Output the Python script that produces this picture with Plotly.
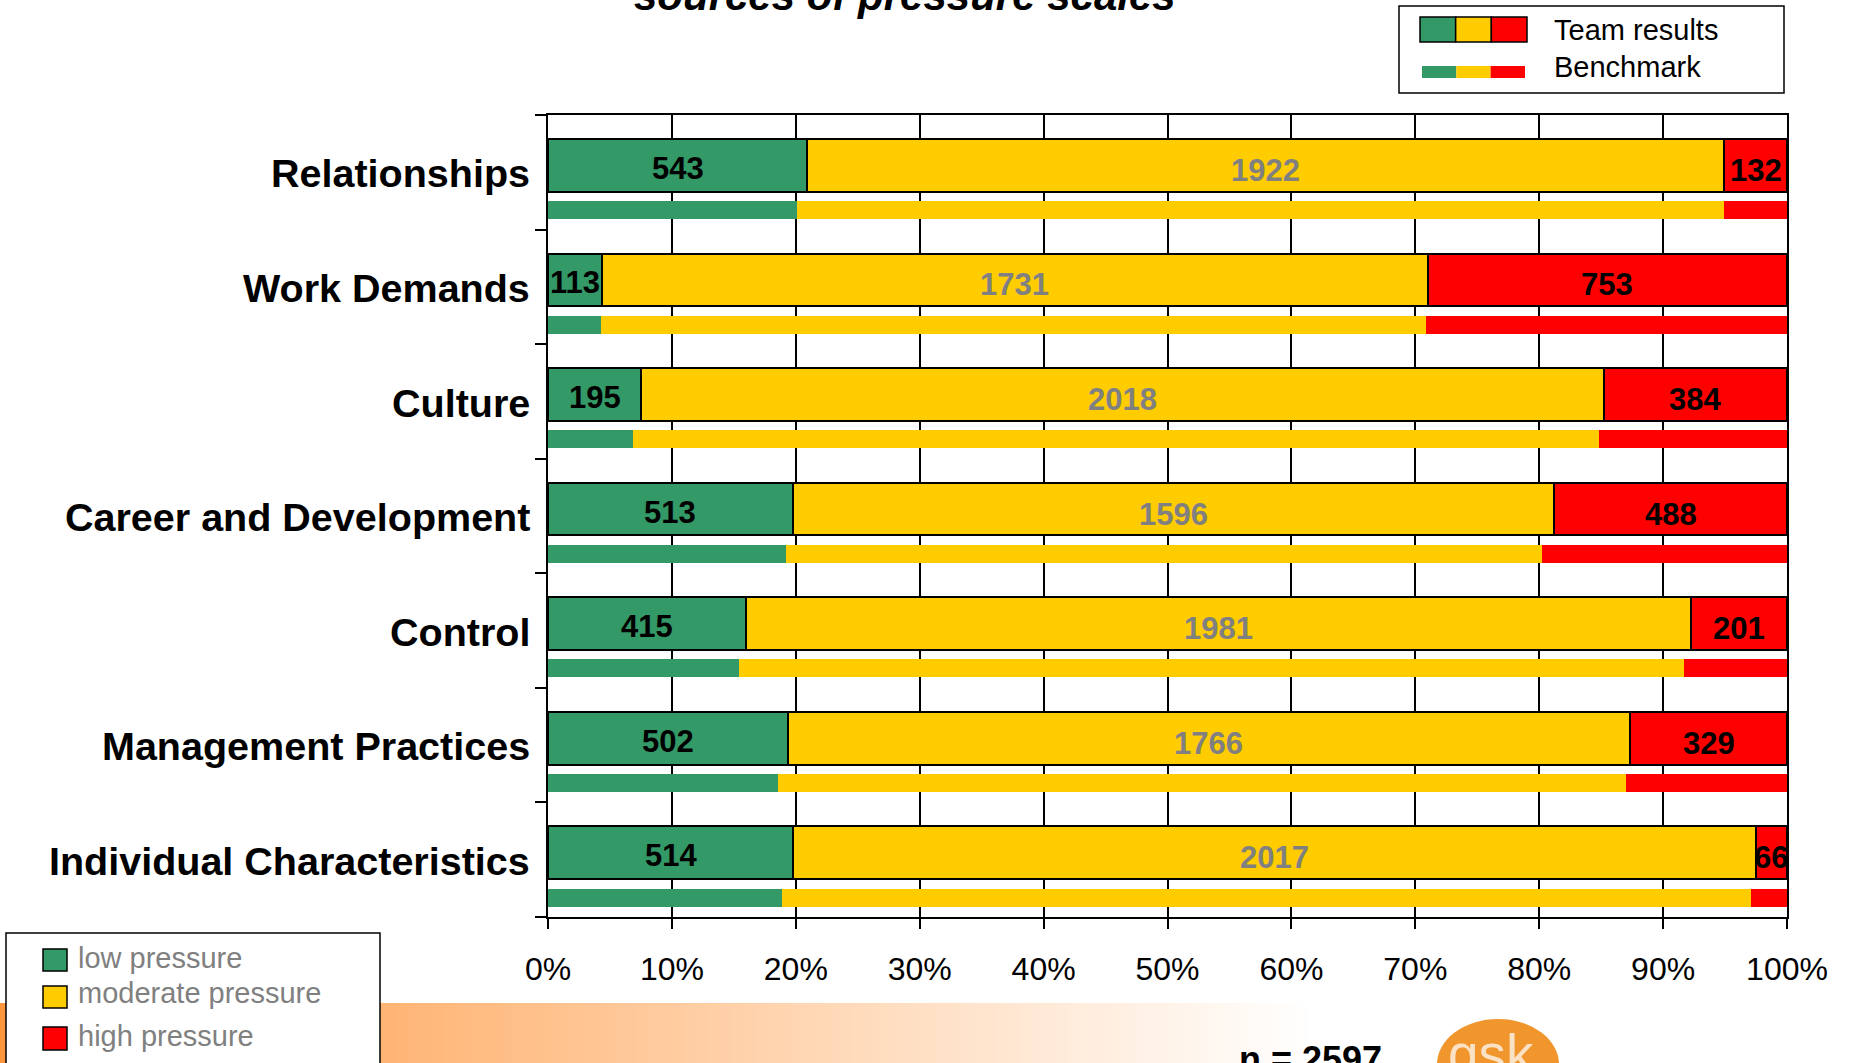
import plotly.graph_objects as go

# ---- data -------------------------------------------------------------
categories = [
    "Relationships",
    "Work Demands",
    "Culture",
    "Career and Development",
    "Control",
    "Management Practices",
    "Individual Characteristics",
]
# team results: number of respondents per pressure level
team_low = [543, 113, 195, 513, 415, 502, 514]
team_moderate = [1922, 1731, 2018, 1596, 1981, 1766, 2017]
team_high = [132, 753, 384, 488, 201, 329, 66]
# benchmark distribution (percent)
bench_low = [20.1, 4.3, 6.9, 19.2, 15.4, 18.6, 18.9]
bench_moderate = [74.8, 66.6, 77.9, 61.0, 76.3, 68.4, 78.2]
bench_high = [5.1, 29.1, 15.2, 19.8, 8.3, 13.0, 2.9]

x_ticks = [0, 10, 20, 30, 40, 50, 60, 70, 80, 90, 100]
x_tick_labels = [f"{v}%" for v in x_ticks]
level_names = ["low pressure", "moderate pressure", "high pressure"]
sample_size = 2597
title_text = "sources of pressure scales"

# ---- style ------------------------------------------------------------
COLORS = ["#339966", "#FFCC00", "#FF0000"]
VALUE_COLORS = ["#000000", "#808080", "#000000"]
VALUE_SHIFT = [-3, -5, -5]
FONT = "Liberation Sans, Arial, sans-serif"

W, H = 1849, 1063
L, R, T, B = 548, 1787, 115, 917


def xp(px):
    return (px - L) / (R - L)


def yp(py):
    return (B - py) / (B - T)


n = len(categories)
team_pos = [i + 0.44 for i in range(n)]
bench_pos = [i + 0.83 for i in range(n)]

fig = go.Figure()

team_series = [team_low, team_moderate, team_high]
bench_series = [bench_low, bench_moderate, bench_high]

for vals, color, name in zip(team_series, COLORS, level_names):
    fig.add_trace(go.Bar(
        x=vals, y=team_pos, orientation="h", width=0.46, name=name,
        marker=dict(color=color, line=dict(color="black", width=2)),
        showlegend=False,
    ))
for vals, color, name in zip(bench_series, COLORS, level_names):
    fig.add_trace(go.Bar(
        x=vals, y=bench_pos, orientation="h", width=0.157, name=name,
        marker=dict(color=color, line=dict(width=0)),
        showlegend=False,
    ))

annotations = []

# value labels in the centre of each team segment
for i in range(n):
    row = [s[i] for s in team_series]
    total = sum(row)
    start = 0
    for k, v in enumerate(row):
        centre = (start + v / 2) / total * 100
        start += v
        annotations.append(dict(
            x=centre, y=team_pos[i], xref="x", yref="y", text=f"<b>{v}</b>",
            showarrow=False, xanchor="center", yanchor="middle",
            yshift=VALUE_SHIFT[k],
            font=dict(family=FONT, size=31, color=VALUE_COLORS[k]),
        ))

# category names
for i, cat in enumerate(categories):
    annotations.append(dict(
        x=xp(532), y=team_pos[i], xref="paper", yref="y", text=f"<b>{cat}</b>",
        showarrow=False, xanchor="right", yanchor="middle", yshift=-8,
        font=dict(family=FONT, size=39.5, color="black"),
    ))

# title (partly above the page edge)
annotations.append(dict(
    x=xp(905), y=yp(-4.5), xref="paper", yref="paper",
    text=f"<b><i>{title_text}</i></b>", showarrow=False,
    xanchor="center", yanchor="middle",
    font=dict(family=FONT, size=42, color="black"),
))

shapes = []

# orange footer band fading to white
band_top, band_end, step = 1003, 1310, 6
c0 = (255, 150, 60)
for x0 in range(0, band_end, step):
    t = x0 / band_end
    r = round(c0[0] + (255 - c0[0]) * t)
    g = round(c0[1] + (255 - c0[1]) * t)
    b = round(c0[2] + (255 - c0[2]) * t)
    shapes.append(dict(
        type="rect", xref="paper", yref="paper", layer="below",
        x0=xp(x0), x1=xp(x0 + step + 1), y0=yp(band_top), y1=yp(H + 5),
        fillcolor=f"rgb({r},{g},{b})", line=dict(width=0),
    ))

# company logo
shapes.append(dict(
    type="circle", xref="paper", yref="paper", layer="above",
    x0=xp(1437), x1=xp(1559), y0=yp(1019), y1=yp(1110),
    fillcolor="#F0962D", line=dict(width=0),
))
annotations.append(dict(
    x=xp(1491), y=yp(1054), xref="paper", yref="paper", text="gsk",
    showarrow=False, xanchor="center", yanchor="middle",
    font=dict(family=FONT, size=55, color="#FBE2C4"),
))
annotations.append(dict(
    x=xp(1310), y=yp(1059), xref="paper", yref="paper",
    text=f"<b>n = {sample_size}</b>", showarrow=False,
    xanchor="center", yanchor="middle",
    font=dict(family=FONT, size=36, color="black"),
))

# key: team results vs benchmark (top right)
shapes.append(dict(
    type="rect", xref="paper", yref="paper", layer="above",
    x0=xp(1399), x1=xp(1784), y0=yp(6), y1=yp(93),
    fillcolor="white", line=dict(color="black", width=1.5),
))
sw_w = (1527 - 1420) / 3
bw = (1525 - 1422) / 3
for k, color in enumerate(COLORS):
    shapes.append(dict(
        type="rect", xref="paper", yref="paper", layer="above",
        x0=xp(1420 + k * sw_w), x1=xp(1420 + (k + 1) * sw_w),
        y0=yp(17), y1=yp(42),
        fillcolor=color, line=dict(color="black", width=1.5),
    ))
    shapes.append(dict(
        type="rect", xref="paper", yref="paper", layer="above",
        x0=xp(1422 + k * bw), x1=xp(1422 + (k + 1) * bw),
        y0=yp(66), y1=yp(78),
        fillcolor=color, line=dict(width=0),
    ))
for txt, cy in [("Team results", 30), ("Benchmark", 67)]:
    annotations.append(dict(
        x=xp(1552), y=yp(cy), xref="paper", yref="paper", text=txt,
        showarrow=False, xanchor="left", yanchor="middle",
        font=dict(family=FONT, size=29, color="black"),
    ))

# key: pressure levels (bottom left)
shapes.append(dict(
    type="rect", xref="paper", yref="paper", layer="above",
    x0=xp(6), x1=xp(380), y0=yp(933), y1=yp(H + 10),
    fillcolor="white", line=dict(color="black", width=1.5),
))
for k, (name, color) in enumerate(zip(level_names, COLORS)):
    top, bot = [(949, 971), (986, 1008), (1027, 1050)][k]
    cy = [957.5, 992.5, 1036][k]
    shapes.append(dict(
        type="rect", xref="paper", yref="paper", layer="above",
        x0=xp(43), x1=xp(67), y0=yp(top), y1=yp(bot),
        fillcolor=color, line=dict(color="black", width=1.5),
    ))
    annotations.append(dict(
        x=xp(76), y=yp(cy), xref="paper", yref="paper", text=name,
        showarrow=False, xanchor="left", yanchor="middle",
        font=dict(family=FONT, size=29, color="#808080"),
    ))

fig.update_layout(
    width=W, height=H,
    margin=dict(l=L, r=W - R, t=T, b=H - B, autoexpand=False),
    paper_bgcolor="white", plot_bgcolor="white",
    barmode="stack", barnorm="percent", bargap=0,
    showlegend=False,
    font=dict(family=FONT, color="black"),
    annotations=annotations, shapes=shapes,
    xaxis=dict(
        range=[0, 100], tickmode="array", tickvals=x_ticks, ticktext=x_tick_labels,
        ticks="outside", ticklen=10, tickwidth=2, tickcolor="black",
        showgrid=True, gridcolor="black", gridwidth=2,
        showline=True, linecolor="black", linewidth=2, mirror=True,
        zeroline=False, ticklabelstandoff=13,
        tickfont=dict(family=FONT, size=32, color="black"),
    ),
    yaxis=dict(
        range=[n, 0], tickmode="array", tickvals=list(range(n + 1)),
        ticks="outside", ticklen=11, tickwidth=2, tickcolor="black",
        showticklabels=False, showgrid=False, zeroline=False,
        showline=True, linecolor="black", linewidth=2, mirror=True,
    ),
)

fig.write_html("out.html")
